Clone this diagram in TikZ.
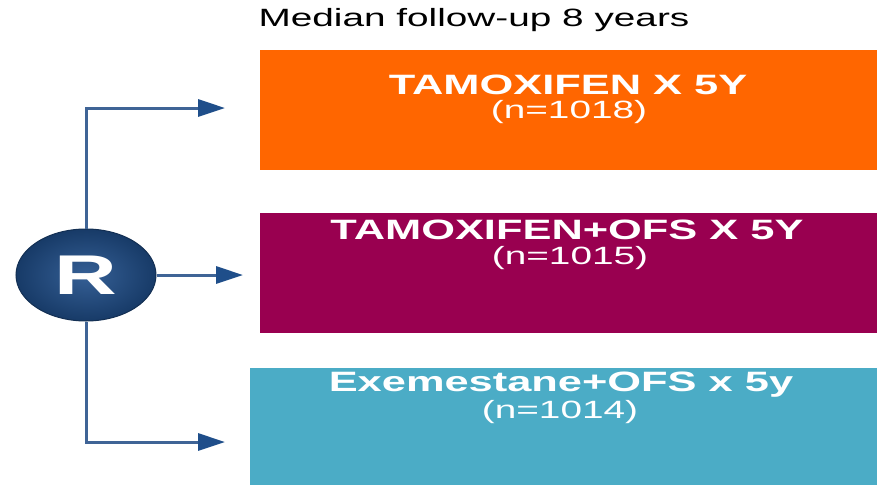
\documentclass[tikz,border=0pt]{standalone}
\usepackage{fontspec}
\setmainfont{Liberation Sans}
\newfontfamily\widefont[FakeStretch=1.55]{Liberation Sans}
\usetikzlibrary{arrows.meta,positioning,shapes.geometric}

\definecolor{armorange}{HTML}{FF6600}
\definecolor{armpurple}{HTML}{990050}
\definecolor{armteal}{HTML}{4BACC6}
\definecolor{rblue}{HTML}{1F4E8A}
\definecolor{linkblue}{HTML}{3F6496}

\begin{document}
\begin{tikzpicture}[x=1pt, y=-1pt,
    arm/.style={anchor=north west, inner sep=0pt},
    armtitle/.style={text=white, font=\widefont\bfseries\fontsize{28}{30}\selectfont},
    armcount/.style={text=white, font=\widefont\fontsize{25}{27}\selectfont},
    link/.style={line width=3pt, linkblue, -{Triangle[length=27pt,width=17pt,color=rblue]}}]
\useasboundingbox (0,0) rectangle (877,485);
% heading
\node[font=\widefont\fontsize{25}{27}\selectfont] (follow) at (474,20) {Median follow-up 8 years};
% treatment arms
\node[arm, fill=armorange, minimum width=617pt, minimum height=120pt] (arm1) at (260,50) {};
\node[arm, fill=armpurple, minimum width=617pt, minimum height=120pt] (arm2) at (260,213) {};
\node[arm, fill=armteal, minimum width=627pt, minimum height=117pt] (arm3) at (250,368) {};
\node[armtitle] (title1) at (568,85) {TAMOXIFEN X 5Y};
\node[armcount] (count1) at (569,112) {(n=1018)};
\node[armtitle] (title2) at (567,230) {TAMOXIFEN+OFS X 5Y};
\node[armcount] (count2) at (570,258) {(n=1015)};
\node[armtitle] (title3) at (561,385) {Exemestane+OFS x 5y};
\node[armcount] (count3) at (560,412) {(n=1014)};
% randomisation
\node[ellipse, inner color=rblue!90!white, outer color=rblue!75!black,
      draw=rblue!60!black, line width=1pt,
      minimum width=140pt, minimum height=92pt,
      text=white, font=\widefont\bfseries\fontsize{56}{58}\selectfont] (R) at (86,275) {R};
% arrow ends
\coordinate (tip1) at (225,108);
\coordinate (tip2) at (243,275);
\coordinate (tip3) at (225,442);
\draw[link] (R.north) |- (tip1);
\draw[link] (R.east) -- (tip2);
\draw[link] (R.south) |- (tip3);
\end{tikzpicture}
\end{document}
